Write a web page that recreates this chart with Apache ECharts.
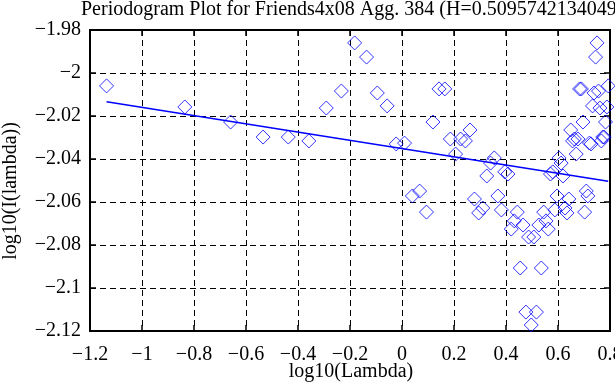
<!DOCTYPE html>
<html>
<head>
<meta charset="utf-8">
<script src="https://cdn.jsdelivr.net/npm/echarts/dist/echarts.min.js"></script>
<style>
html,body{margin:0;padding:0;background:#fff;overflow:hidden}
#c{width:615px;height:385px}
</style>
</head>
<body>
<div id="c"></div>
<script>
// ---- chart data ----
const titleText = "Periodogram Plot for Friends4x08 Agg. 384 (H=0.5095742134049";
const xName = "log10(Lambda)";
const yName = "log10(I(lambda))";

// x: log10(Lambda) of each periodogram point
const logLambda = [
  -1.1363, -0.8353, -0.6592, -0.5343, -0.4374, -0.3582, -0.2912, -0.2332, -0.1821, -0.1363,
  -0.0949, -0.0571, -0.0224, 0.0098, 0.0398, 0.0678, 0.0941, 0.1190, 0.1424, 0.1647,
  0.1859, 0.2061, 0.2254, 0.2439, 0.2616, 0.2787, 0.2950, 0.3108, 0.3261, 0.3408,
  0.3550, 0.3688, 0.3822, 0.3952, 0.4077, 0.4200, 0.4319, 0.4435, 0.4547, 0.4657,
  0.4765, 0.4869, 0.4971, 0.5071, 0.5169, 0.5264, 0.5358, 0.5449, 0.5539, 0.5626,
  0.5712, 0.5797, 0.5880, 0.5961, 0.6040, 0.6119, 0.6195, 0.6271, 0.6345, 0.6418,
  0.6490, 0.6561, 0.6630, 0.6699, 0.6766, 0.6832, 0.6898, 0.6962, 0.7025, 0.7088,
  0.7149, 0.7210, 0.7270, 0.7329, 0.7387, 0.7445, 0.7502, 0.7558, 0.7613, 0.7668,
  0.7722, 0.7775, 0.7828, 0.7880, 0.7931
];
// y: log10(I(lambda)) of each point
const logI = [
  -2.0060, -2.0158, -2.0228, -2.0298, -2.0298, -2.0316, -2.0163, -2.0084, -1.9860, -1.9926,
  -2.0093, -2.0153, -2.0330, -2.0326, -2.0572, -2.0549, -2.0647, -2.0228, -2.0074, -2.0074,
  -2.0307, -2.0377, -2.0307, -2.0316, -2.0265, -2.0586, -2.0651, -2.0628, -2.0479, -2.0419,
  -2.0395, -2.0572, -2.0637, -2.0460, -2.0470, -2.0726, -2.0688, -2.0647, -2.0907, -2.0707,
  -2.1112, -2.0763, -2.1172, -2.0763, -2.1112, -2.0707, -2.0907, -2.0647, -2.0688, -2.0726,
  -2.0470, -2.0460, -2.0637, -2.0572, -2.0395, -2.0419, -2.0479, -2.0628, -2.0651, -2.0586,
  -2.0265, -2.0316, -2.0307, -2.0377, -2.0307, -2.0074, -2.0074, -2.0228, -2.0647, -2.0549,
  -2.0572, -2.0326, -2.0330, -2.0153, -2.0093, -1.9926, -1.9860, -2.0084, -2.0163, -2.0316,
  -2.0298, -2.0298, -2.0228, -2.0158, -2.0060
];
// fitted regression line end points
const fitX = [-1.1363, 0.7931];
const fitY = [-2.0134, -2.0504];

// axis ranges / tick steps
const xRange = [-1.2, 0.8];
const xStep = 0.2;
const yRange = [-2.12, -1.98];
const yStep = 0.02;

// ---- rendering ----
const FONT = "'Liberation Serif', 'Times New Roman', serif";
const FS = 20;
const BLUE = '#0000ff';
const fmt = v => String(Math.round(v * 100) / 100).replace('-', '\u2212');

const chart = echarts.init(document.getElementById('c'), null, {renderer: 'canvas'});

const axisLineStyle = {color: '#000', width: 2};
const tickStyle = {color: '#000', width: 1.5};
const gridLineStyle = {color: '#000', width: 1, type: [6, 4]};

chart.setOption({
  animation: false,
  backgroundColor: '#fff',
  textStyle: {fontFamily: FONT},
  grid: {left: 90, right: 5, top: 30, bottom: 54, containLabel: false, outerBoundsMode: 'none'},
  xAxis: [
    {
      type: 'value', position: 'bottom', min: xRange[0], max: xRange[1], interval: xStep,
      axisLine: {show: true, onZero: false, lineStyle: axisLineStyle},
      axisTick: {show: true, inside: true, length: 6, lineStyle: tickStyle},
      axisLabel: {show: true, formatter: fmt, color: '#000', fontFamily: FONT, fontSize: FS, margin: 14, hideOverlap: false, showMinLabel: true, showMaxLabel: true},
      splitLine: {show: true, lineStyle: gridLineStyle}
    },
    {
      type: 'value', position: 'top', min: xRange[0], max: xRange[1], interval: xStep,
      axisLine: {show: true, onZero: false, lineStyle: axisLineStyle},
      axisTick: {show: true, inside: true, length: 6, lineStyle: tickStyle},
      axisLabel: {show: false},
      splitLine: {show: false}
    }
  ],
  yAxis: [
    {
      type: 'value', position: 'left', min: yRange[0], max: yRange[1], interval: yStep,
      axisLine: {show: true, onZero: false, lineStyle: axisLineStyle},
      axisTick: {show: true, inside: true, length: 6, lineStyle: tickStyle},
      axisLabel: {show: true, formatter: fmt, color: '#000', fontFamily: FONT, fontSize: FS, margin: 9, showMinLabel: true, showMaxLabel: true},
      splitLine: {show: true, lineStyle: gridLineStyle}
    },
    {
      type: 'value', position: 'right', min: yRange[0], max: yRange[1], interval: yStep,
      axisLine: {show: true, onZero: false, lineStyle: axisLineStyle},
      axisTick: {show: true, inside: true, length: 6, lineStyle: tickStyle},
      axisLabel: {show: false},
      splitLine: {show: false}
    }
  ],
  graphic: [
    {type: 'text', x: 81, y: 9.5, silent: true,
     style: {text: titleText, font: FS + 'px ' + FONT, fill: '#000', align: 'left', verticalAlign: 'middle', textAlign: 'left', textVerticalAlign: 'middle'}},
    {type: 'text', x: 351, y: 372, silent: true,
     style: {text: xName, font: FS + 'px ' + FONT, fill: '#000', align: 'center', verticalAlign: 'middle', textAlign: 'center', textVerticalAlign: 'middle'}},
    {type: 'text', x: 11, y: 191, rotation: Math.PI / 2, silent: true,
     style: {text: yName, font: FS + 'px ' + FONT, fill: '#000', align: 'center', verticalAlign: 'middle', textAlign: 'center', textVerticalAlign: 'middle'}}
  ],
  series: [
    {
      type: 'scatter', xAxisIndex: 0, yAxisIndex: 0, silent: true,
      symbol: 'diamond', symbolSize: [14, 14],
      itemStyle: {color: 'rgba(0,0,0,0)', borderColor: BLUE, borderWidth: 1},
      data: logLambda.map((x, i) => [x, logI[i]]),
      z: 3
    },
    {
      type: 'line', xAxisIndex: 0, yAxisIndex: 0, silent: true,
      showSymbol: false, symbol: 'none',
      lineStyle: {color: BLUE, width: 1.5},
      data: fitX.map((x, i) => [x, fitY[i]]),
      z: 4
    }
  ]
});
</script>
</body>
</html>
